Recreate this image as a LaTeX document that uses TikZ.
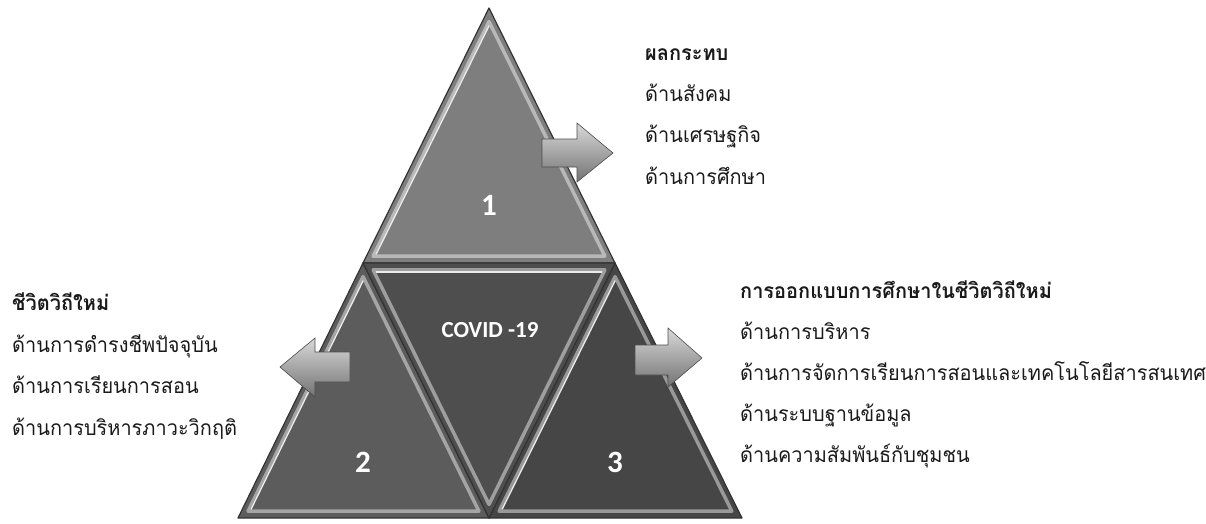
\documentclass[tikz,border=0pt]{standalone}
\usepackage{fontspec}
\setmainfont{Carlito}
\newfontfamily\thaifont[Script=Thai,FakeStretch=0.95]{Loma}
\usetikzlibrary{calc}
\definecolor{tone}{HTML}{7E7E7E}
\definecolor{ttwo}{HTML}{5C5C5C}
\definecolor{tmid}{HTML}{4E4E4E}
\definecolor{tthree}{HTML}{464646}
\definecolor{txt}{HTML}{1A1A1A}
\newcommand{\bevtri}[5]{%
  \coordinate (#5c) at (barycentric cs:#1=1,#2=1,#3=1);
  \fill[#4] (#1)--(#2)--(#3)--cycle;
  \draw[line width=3.5pt, #4!55!white, line join=round]
    ($(#5c)!0.92!(#1)$)--($(#5c)!0.92!(#2)$)--($(#5c)!0.92!(#3)$)--cycle;
  \draw[line width=1.3pt, white!92!black, line cap=round]
    ($(#5c)!0.895!(#1)$)--($(#5c)!0.895!(#2)$);
  \draw[black!80, line width=1.2pt, line join=round] (#1)--(#2)--(#3)--cycle;
}
\tikzset{
  thai/.style={font=\thaifont\fontsize{21}{24}\selectfont, text=txt, anchor=base west, inner sep=0pt},
  thaihead/.style={thai, font=\thaifont\bfseries\fontsize{21}{24}\selectfont},
  numlabel/.style={font=\bfseries\fontsize{31}{34}\selectfont, text=white},
  covid/.style={font=\bfseries\fontsize{23}{26}\selectfont, text=white},
  blockarrow/.style={top color=black!15, bottom color=black!55, draw=black!70, line width=0.6pt, line join=miter},
}
\begin{document}
\begin{tikzpicture}[x=1pt,y=-1pt]
\useasboundingbox (0,0) rectangle (1206,524);
% vertices
\coordinate (A) at (489,8);
\coordinate (L) at (363,263);
\coordinate (R) at (615,263);
\coordinate (BL) at (238,518);
\coordinate (BM) at (489,518);
\coordinate (BR) at (742,518);
% triangles
\bevtri{A}{L}{R}{tone}{tA}
\bevtri{L}{BL}{BM}{ttwo}{tB}
\bevtri{R}{BM}{BR}{tthree}{tC}
\bevtri{R}{L}{BM}{tmid}{tD}
% labels
\node[numlabel] (n1) at (489,205) {1};
\node[numlabel] (n2) at (363,462) {2};
\node[numlabel] (n3) at (615,462) {3};
\node[covid] (cv) at (490,330) {COVID -19};
% block arrows
\path[blockarrow] (542,139) -- (577,139) -- (577,123) -- (613,153) -- (577,182) -- (577,167) -- (542,167) -- cycle;
\path[blockarrow] (350,352) -- (315,352) -- (315,338) -- (280,367) -- (315,397) -- (315,382) -- (350,382) -- cycle;
\path[blockarrow] (635,345) -- (668,345) -- (668,328) -- (702,358) -- (668,387) -- (668,375) -- (635,375) -- cycle;
% text top right
\node[thaihead] (h1) at (645,61) {ผลกระทบ};
\node[thai] (a1) at (645,102) {ด้านสังคม};
\node[thai] (a2) at (645,142) {ด้านเศรษฐกิจ};
\node[thai] (a3) at (645,184) {ด้านการศึกษา};
% text left
\node[thaihead] (h2) at (12,310) {ชีวิตวิถีใหม่};
\node[thai] (b1) at (12,352) {ด้านการดำรงชีพปัจจุบัน};
\node[thai] (b2) at (12,393) {ด้านการเรียนการสอน};
\node[thai] (b3) at (12,435) {ด้านการบริหารภาวะวิกฤติ};
% text bottom right
\node[thaihead] (h3) at (740,298) {การออกแบบการศึกษาในชีวิตวิถีใหม่};
\node[thai] (c1) at (740,339) {ด้านการบริหาร};
\node[thai] (c2) at (740,380) {ด้านการจัดการเรียนการสอนและเทคโนโลยีสารสนเทศ};
\node[thai] (c3) at (740,421) {ด้านระบบฐานข้อมูล};
\node[thai] (c4) at (740,462) {ด้านความสัมพันธ์กับชุมชน};
\end{tikzpicture}
\end{document}
